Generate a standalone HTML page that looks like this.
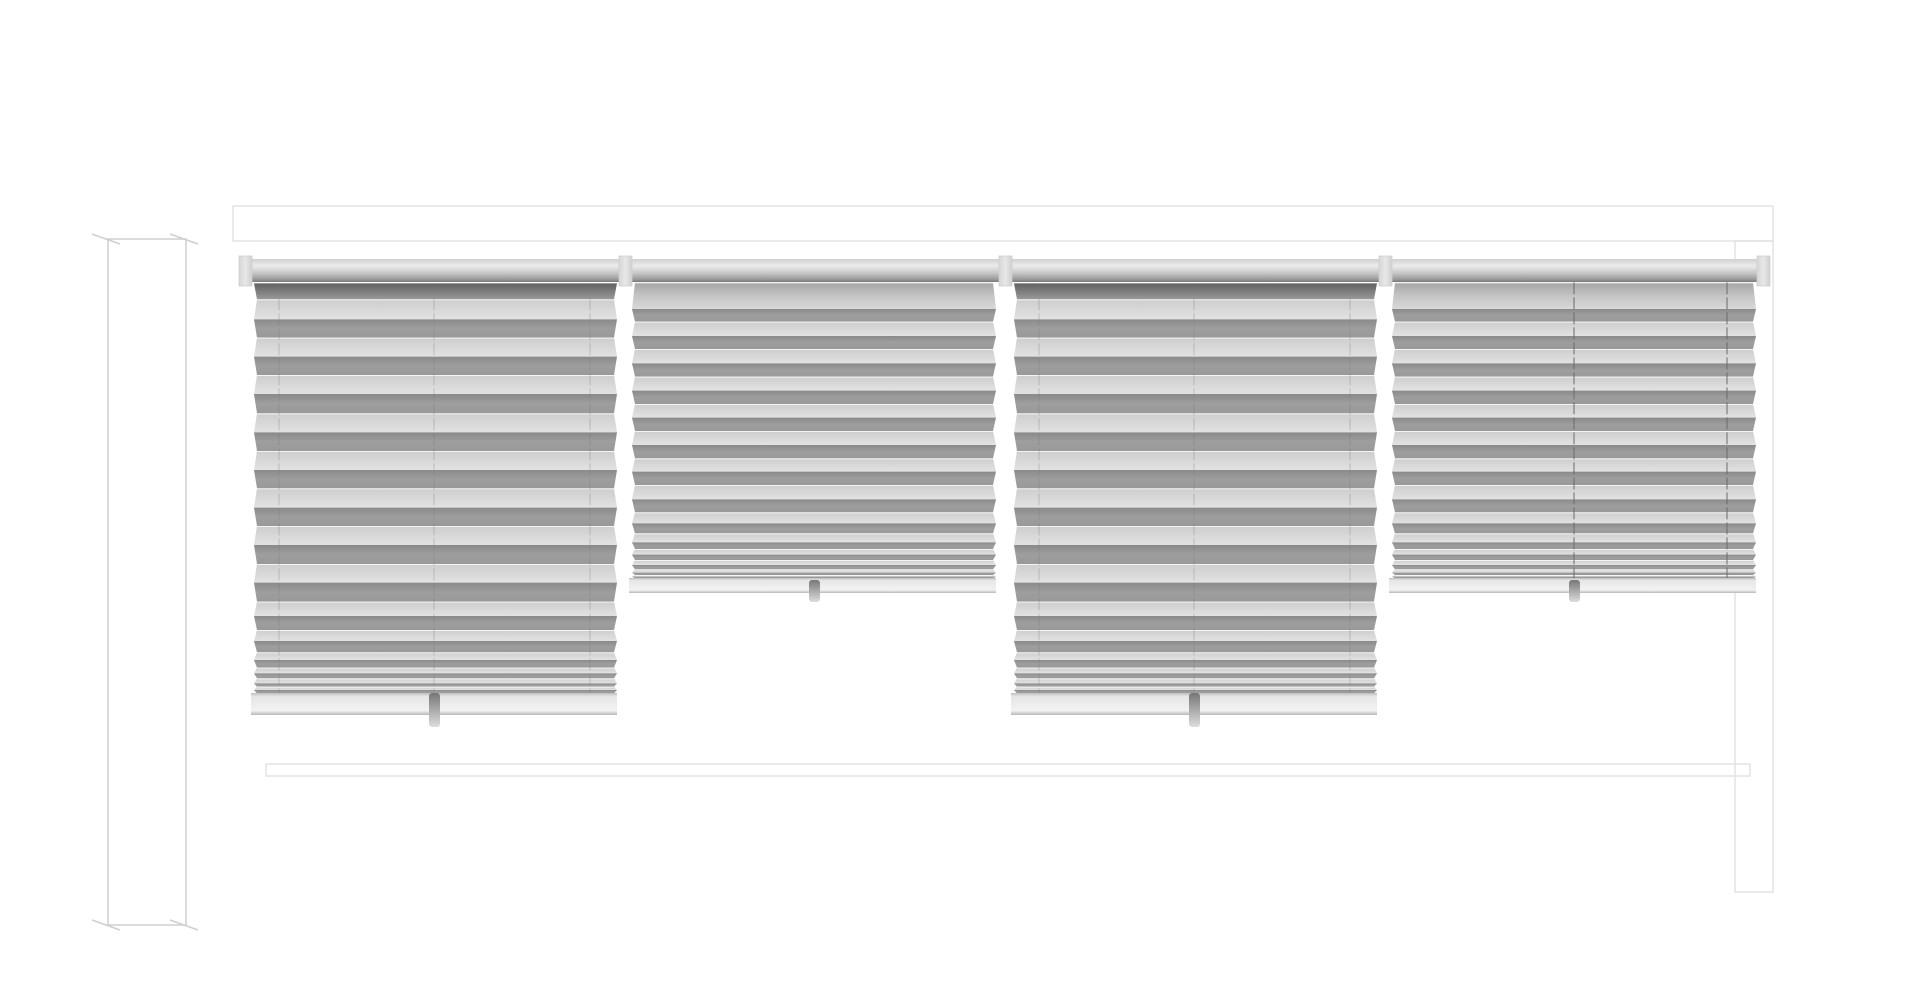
<!DOCTYPE html>
<html><head><meta charset="utf-8"><style>
html,body{margin:0;padding:0;background:#fff;width:1920px;height:992px;overflow:hidden}
svg{display:block}
</style></head><body>
<svg id="s" width="1920" height="992" viewBox="0 0 1920 992" xmlns="http://www.w3.org/2000/svg">
<defs>
<linearGradient id="rail" x1="0" y1="0" x2="0" y2="1">
<stop offset="0" stop-color="#d0d0d0"/><stop offset="0.3" stop-color="#ebebeb"/><stop offset="0.6" stop-color="#c8c8c8"/><stop offset="0.85" stop-color="#a0a0a0"/><stop offset="1" stop-color="#7a7a7a"/></linearGradient>
<linearGradient id="cap" x1="0" y1="0" x2="1" y2="0">
<stop offset="0" stop-color="#d6d6d6"/><stop offset="0.5" stop-color="#e8e8e8"/><stop offset="1" stop-color="#cfcfcf"/></linearGradient>
<linearGradient id="dk" x1="0" y1="0" x2="0" y2="1">
<stop offset="0" stop-color="#8a8a8a"/><stop offset="0.5" stop-color="#9e9e9e"/><stop offset="1" stop-color="#999"/></linearGradient>
<linearGradient id="dk0" x1="0" y1="0" x2="0" y2="1">
<stop offset="0" stop-color="#606060"/><stop offset="1" stop-color="#9a9a9a"/></linearGradient>
<linearGradient id="lt" x1="0" y1="0" x2="0" y2="1">
<stop offset="0" stop-color="#cdcdcd"/><stop offset="1" stop-color="#e2e2e2"/></linearGradient>
<linearGradient id="lt0" x1="0" y1="0" x2="0" y2="1">
<stop offset="0" stop-color="#a4a4a4"/><stop offset="0.5" stop-color="#c4c4c4"/><stop offset="1" stop-color="#d8d8d8"/></linearGradient>
<linearGradient id="bot" x1="0" y1="0" x2="0" y2="1">
<stop offset="0" stop-color="#bdbdbd"/><stop offset="0.15" stop-color="#e6e6e6"/><stop offset="0.8" stop-color="#f2f2f2"/><stop offset="1" stop-color="#b8b8b8"/></linearGradient>
<linearGradient id="hd" x1="0" y1="0" x2="0" y2="1">
<stop offset="0" stop-color="#777"/><stop offset="0.5" stop-color="#aaa"/><stop offset="1" stop-color="#ddd"/></linearGradient>
</defs>
<g fill="none" stroke="#e3e3e3" stroke-width="1.5">
<rect x="233" y="206" width="1540" height="35"/>
<rect x="1735" y="241" width="38" height="651"/>
<rect x="266" y="764" width="1484" height="12"/>
</g>
<g stroke="#cfcfcf" stroke-width="1.5" fill="none">
<rect x="108" y="239" width="78" height="686"/>
<line x1="92" y1="234" x2="120" y2="244"/><line x1="170" y1="234" x2="198" y2="244"/>
<line x1="92" y1="920" x2="120" y2="930"/><line x1="170" y1="920" x2="198" y2="930"/>
</g>
<g id="b"></g>
</svg>
<script>
var g=document.getElementById('b'),h='';
var A=[130,178,238,293,350,405,462,520,577,633,690,745,803,858,915,972,1028,1085,1128,1170,1203,1237,1260,1283,1300,1315,1330,1340,1350,1360];
var B=[97,177,215,258,297,340,380,422,462,503,543,585,625,665,705,748,787,820,850,877,897,914,930,945,958,968,975,980,985];
function blind(x0,x1,ys,firstDark,cords,cordCol,railY,railH,hy1,hy2,hx){
 for(var i=0;i<ys.length-1;i++){
  var y1=ys[i],y2=ys[i+1];
  var dark=firstDark?(i%2==0):(i%2==1);
  var f=dark?(i==0?'url(#dk0)':'url(#dk)'):(i==0?'url(#lt0)':'url(#lt)');
  var a=dark?0:3,b=dark?3:0;
  h+='<polygon points="'+(x0+a)+','+y1+' '+(x1-a)+','+y1+' '+(x1-b)+','+y2+' '+(x0+b)+','+y2+'" fill="'+f+'"/>';
  if(!dark) h+='<line x1="'+(x0+a)+'" y1="'+(y1+0.5)+'" x2="'+(x1-a)+'" y2="'+(y1+0.5)+'" stroke="#f4f4f4" stroke-width="1"/>';
 }
 cords.forEach(function(c){h+='<line x1="'+c+'" y1="'+ys[0]+'" x2="'+c+'" y2="'+ys[ys.length-1]+'" stroke="'+cordCol+'" stroke-width="1" stroke-dasharray="12,3"/>';});
 h+='<rect x="'+(x0-3)+'" y="'+railY+'" width="'+(x1-x0+3)+'" height="'+railH+'" fill="url(#bot)"/>';
 h+='<rect x="'+hx+'" y="'+hy1+'" width="11" height="'+(hy2-hy1)+'" rx="3" fill="url(#hd)"/>';
}
for(var k=0;k<2;k++){
 var o=k*760;
 blind(254+o,617+o,A.map(function(z){return 240+z/3;}),true,[279+o,434+o,590+o],'rgba(120,120,120,0.35)',693,22,693,727,429+o);
 blind(632+o,996+o,B.map(function(z){return 250+z/3;}),false,k?[1574,1727]:[],'#6a6a6a',578,15,580,602,809+o);
}
[[252,619],[632,999],[1012,1379],[1392,1757]].forEach(function(s){h+='<rect x="'+s[0]+'" y="259" width="'+(s[1]-s[0])+'" height="23" fill="url(#rail)"/>';});
[239,619,999,1379,1757].forEach(function(x){h+='<rect x="'+x+'" y="256" width="13" height="30" fill="url(#cap)" stroke="#d0d0d0" stroke-width="0.8"/>';});
g.innerHTML=h;
</script>
</body></html>
